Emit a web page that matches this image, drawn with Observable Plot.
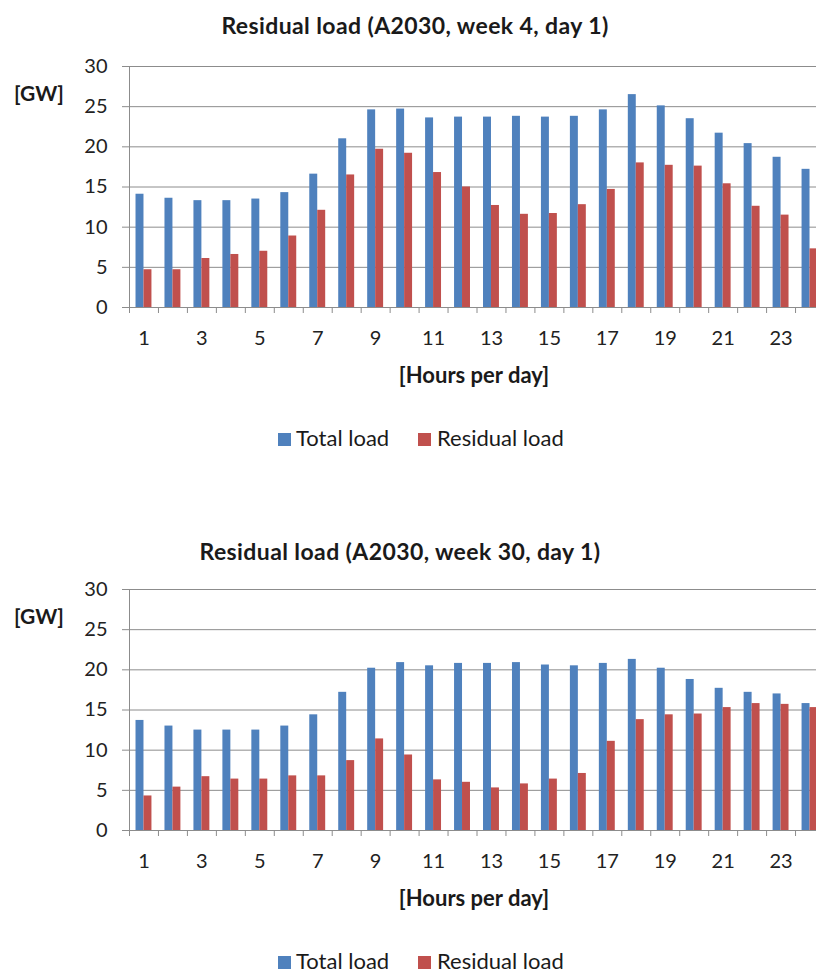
<!DOCTYPE html>
<html>
<head>
<meta charset="utf-8">
<script src="https://cdn.jsdelivr.net/npm/d3@7"></script>
<script src="https://cdn.jsdelivr.net/npm/@observablehq/plot@0.6"></script>
<style>
  html, body { margin: 0; padding: 0; background: #fff; overflow: hidden; }
  #page { position: relative; width: 816px; height: 974px; overflow: hidden; font-family: Lato, "Open Sans", sans-serif; color: #1a1a1a; }
  .chart { position: absolute; left: 0; width: 816px; height: 470px; }
  .title { position: absolute; font-weight: bold; font-size: 23px; letter-spacing: 0.4px; white-space: nowrap; transform: translate(-50%, -50%); line-height: 1; }
  .ylab { position: absolute; left: 14px; font-weight: bold; font-size: 21px; line-height: 1; transform: translateY(-50%); }
  .xlab { position: absolute; font-weight: bold; font-size: 22px; white-space: nowrap; line-height: 1; transform: translate(-50%, -50%); }
  .plotwrap { position: absolute; left: 0; top: 46px; width: 824px; }
  .plotwrap svg { max-width: none !important; }
  .legend { position: absolute; top: 428px; height: 20px; left: 0; width: 816px; }
  .sw { position: absolute; width: 13px; height: 13px; top: 5px; }
  .lt { position: absolute; top: 0; font-size: 22px; line-height: 20px; white-space: nowrap; }
</style>
</head>
<body>
<div id="page"></div>
<script>
// ---- data ----
const hours = [1, 2, 3, 4, 5, 6, 7, 8, 9, 10, 11, 12, 13, 14, 15, 16, 17, 18, 19, 20, 21, 22, 23, 24];
const xTickLabels = [1, 3, 5, 7, 9, 11, 13, 15, 17, 19, 21, 23];
const yTicks = [0, 5, 10, 15, 20, 25, 30];
const seriesNames = ["Total load", "Residual load"];
const seriesColors = ["#4F81BD", "#C0504D"];
const titles = ["Residual load (A2030, week 4, day 1)", "Residual load (A2030, week 30, day 1)"];
const yAxisLabel = "[GW]";
const xAxisLabel = "[Hours per day]";

const week4Total    = [14.1, 13.6, 13.3, 13.3, 13.5, 14.3, 16.6, 21.0, 24.6, 24.7, 23.6, 23.7, 23.7, 23.8, 23.7, 23.8, 24.6, 26.5, 25.1, 23.5, 21.7, 20.4, 18.7, 17.2];
const week4Residual = [4.7, 4.7, 6.1, 6.6, 7.0, 8.9, 12.1, 16.5, 19.7, 19.2, 16.8, 15.0, 12.7, 11.6, 11.7, 12.8, 14.7, 18.0, 17.7, 17.6, 15.4, 12.6, 11.5, 7.3];
const week30Total    = [13.7, 13.0, 12.5, 12.5, 12.5, 13.0, 14.4, 17.2, 20.2, 20.9, 20.5, 20.8, 20.8, 20.9, 20.6, 20.5, 20.8, 21.3, 20.2, 18.8, 17.7, 17.2, 17.0, 15.8];
const week30Residual = [4.3, 5.4, 6.7, 6.4, 6.4, 6.8, 6.8, 8.7, 11.4, 9.4, 6.3, 6.0, 5.3, 5.8, 6.4, 7.1, 11.1, 13.8, 14.4, 14.5, 15.3, 15.8, 15.7, 15.3];

// ---- layout ----
const W = 824, ML = 129;
const step = (W - ML) / hours.length;
const bandFrac = 0.55;
const band = step * bandFrac;
const grid = "#8c8c8c";
const textColor = "#222";

function makePlot(total, residual) {
  const rows = hours.flatMap((h, i) => [
    {hour: h, series: seriesNames[0], value: total[i]},
    {hour: h, series: seriesNames[1], value: residual[i]}
  ]);
  return Plot.plot({
    width: W, height: 344,
    marginLeft: ML, marginRight: 0, marginTop: 20, marginBottom: 83,
    style: {fontFamily: "Lato, 'Open Sans', sans-serif", background: "transparent", overflow: "visible"},
    x: {type: "band", domain: hours, paddingInner: 1 - bandFrac, paddingOuter: (1 - bandFrac) / 2, round: false, axis: null},
    y: {domain: [0, 30], axis: null},
    color: {domain: seriesNames, range: seriesColors},
    marks: [
      Plot.ruleY(yTicks, {stroke: grid, strokeWidth: 1}),
      Plot.axisY({ticks: yTicks, tickSize: 7, tickPadding: 15, fontSize: 20, stroke: grid, fill: textColor, label: null}),
      Plot.frame({anchor: "left", stroke: grid}),
      Plot.barY(rows.filter(d => d.series === seriesNames[0]), {x: "hour", y: "value", fill: "series", insetRight: band / 2}),
      Plot.barY(rows.filter(d => d.series === seriesNames[1]), {x: "hour", y: "value", fill: "series", insetLeft: band / 2}),
      Plot.axisX({ticks: hours, tickSize: 6, tickFormat: () => "", dx: -step / 2, stroke: grid, label: null}),
      Plot.axisX({ticks: xTickLabels, tickSize: 0, tickPadding: 23, fontSize: 20, fill: textColor, label: null}),
      Plot.ruleY([0], {stroke: grid})
    ]
  });
}

const charts = [
  {top: 0, titleX: 415, titleY: 25, total: week4Total, residual: week4Residual, title: titles[0]},
  {top: 523, titleX: 400, titleY: 28, total: week30Total, residual: week30Residual, title: titles[1]}
];

const page = document.getElementById("page");
charts.forEach(c => {
  const div = document.createElement("div");
  div.className = "chart";
  div.style.top = c.top + "px";

  const t = document.createElement("div");
  t.className = "title"; t.textContent = c.title;
  t.style.left = c.titleX + "px"; t.style.top = c.titleY + "px";
  div.appendChild(t);

  const gw = document.createElement("div");
  gw.className = "ylab"; gw.textContent = yAxisLabel; gw.style.top = "92px";
  div.appendChild(gw);

  const wrap = document.createElement("div");
  wrap.className = "plotwrap";
  wrap.appendChild(makePlot(c.total, c.residual));
  div.appendChild(wrap);

  const xl = document.createElement("div");
  xl.className = "xlab"; xl.textContent = xAxisLabel;
  xl.style.left = "474px"; xl.style.top = "375px";
  div.appendChild(xl);

  const lg = document.createElement("div");
  lg.className = "legend";
  const pos = [[278, 296], [418, 437]];
  seriesNames.forEach((s, i) => {
    const sw = document.createElement("div");
    sw.className = "sw"; sw.style.left = pos[i][0] + "px"; sw.style.background = seriesColors[i];
    const lt = document.createElement("div");
    lt.className = "lt"; lt.style.left = pos[i][1] + "px"; lt.textContent = s;
    lg.appendChild(sw); lg.appendChild(lt);
  });
  div.appendChild(lg);

  page.appendChild(div);
});
</script>
</body>
</html>
